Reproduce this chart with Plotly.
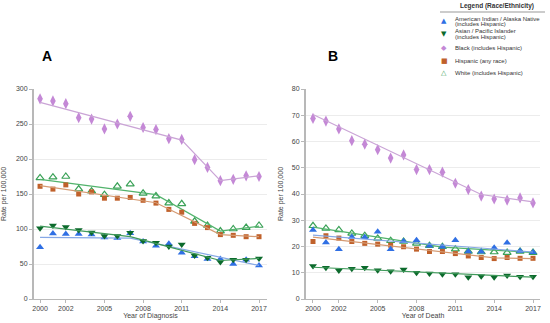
import plotly.graph_objects as go

years = list(range(2000, 2018))

# Panel A: incidence (rate per 100,000)
inc_aian = [74, 93.5, 93, 93, 92, 88, 87, 94, 82, 76, 79, 66, 61, 57, 57, 50, 56, 48]
inc_api = [101, 105, 103, 98.5, 95, 90, 90, 94.5, 83, 80.5, 75, 78, 62, 59, 53, 56, 56, 58]
inc_black = [286, 283, 279, 259, 257, 243, 250, 261, 245, 242, 229, 228, 199, 188, 169, 171, 176, 175]
inc_hisp = [161, 157, 163, 150, 153, 144, 144, 145, 141, 137, 128, 124, 108, 102, 92, 91, 89, 89]
inc_white = [173, 174, 175, 157, 154, 149, 161, 164, 151, 147, 137, 136, 111, 105, 97, 100, 102, 105]

# Panel A: fitted trend (joinpoint) values
inc_aian_tx, inc_aian_ty = [2000, 2007, 2017], [88, 87, 48]
inc_api_tx, inc_api_ty = [2000, 2007, 2014, 2017], [104, 89, 55, 58]
inc_black_tx, inc_black_ty = [2000, 2011, 2014, 2017], [281, 227, 169, 176]
inc_hisp_tx, inc_hisp_ty = [2000, 2009, 2014, 2017], [162, 137.5, 92, 89]
inc_white_tx, inc_white_ty = [2000, 2009, 2014, 2017], [171, 149, 97, 104]

# Panel B: mortality (rate per 100,000)
mort_aian = [26.3, 21.5, 19.0, 23.6, 23.5, 25.6, 19.0, 22.0, 22.4, 20.3, 19.9, 22.4, 18.1, 18.0, 19.5, 21.4, 18.3, 17.8]
mort_api = [12.6, 11.9, 10.9, 11.5, 11.9, 11.0, 10.6, 11.2, 10.0, 9.7, 9.4, 9.4, 8.3, 8.7, 8.3, 9.0, 8.5, 8.5]
mort_black = [68.8, 67.8, 64.8, 60.3, 59.0, 56.9, 53.7, 54.9, 49.3, 49.3, 48.3, 44.1, 41.7, 39.2, 38.1, 37.7, 38.5, 36.6]
mort_hisp = [21.9, 24.1, 23.2, 21.9, 21.2, 20.9, 20.5, 19.9, 19.0, 18.1, 18.1, 17.3, 16.4, 15.8, 15.4, 15.8, 15.5, 15.5]
mort_white = [27.9, 26.9, 26.3, 25.0, 24.1, 23.1, 22.2, 21.9, 21.2, 20.3, 19.9, 19.0, 18.1, 17.9, 17.9, 17.7, 18.1, 17.7]

mort_aian_tx, mort_aian_ty = [2000, 2017], [24.3, 17.9]
mort_api_tx, mort_api_ty = [2000, 2017], [12.1, 8.3]
mort_black_tx, mort_black_ty = [2000, 2013, 2017], [70.3, 39.8, 37.0]
mort_hisp_tx, mort_hisp_ty = [2000, 2014, 2017], [23.6, 15.7, 15.4]
mort_white_tx, mort_white_ty = [2000, 2010, 2017], [27.4, 19.8, 17.7]

x_ticks = [2000, 2002, 2005, 2008, 2011, 2014, 2017]
inc_y_ticks = [0, 50, 100, 150, 200, 250, 300]
mort_y_ticks = [0, 10, 20, 30, 40, 50, 60, 70, 80]

series_names = [
    ["American Indian / Alaska Native", "(includes Hispanic)"],
    ["Asian / Pacific Islander", "(includes Hispanic)"],
    ["Black (includes Hispanic)"],
    ["Hispanic (any race)"],
    ["White (includes Hispanic)"],
]

W, H = 550, 323
FONT = "Liberation Sans, Arial, sans-serif"

styles = {
    "aian": dict(sym="triangle-up", size=7, color="#2f6fe4", line="#86a8e6", open=False, glyph="▲"),
    "api": dict(sym="triangle-down", size=7, color="#0c6a2c", line="#3f995a", open=False, glyph="▼"),
    "black": dict(sym="diamond-tall", size=8, color="#c488d6", line="#caa4d6", open=False, glyph="◆"),
    "hisp": dict(sym="square", size=5, color="#c0612b", line="#d59a72", open=False, glyph="■"),
    "white": dict(sym="triangle-up-open", size=7, color="#3aa157", line="#52b36c", open=True, glyph="△"),
}

fig = go.Figure()

def add_series(key, yvals, tx, ty, xa, ya):
    s = styles[key]
    marker = dict(symbol=s["sym"], size=s["size"], color=s["color"])
    if s["open"]:
        marker["line"] = dict(color=s["color"], width=1.2)
    else:
        marker["line"] = dict(width=0)
    fig.add_trace(go.Scatter(x=years, y=yvals, mode="markers", marker=marker,
                             xaxis=xa, yaxis=ya, showlegend=False, hoverinfo="skip"))
    fig.add_trace(go.Scatter(x=tx, y=ty, mode="lines", line=dict(color=s["line"], width=1.2),
                             xaxis=xa, yaxis=ya, showlegend=False, hoverinfo="skip"))

add_series("black", inc_black, inc_black_tx, inc_black_ty, "x", "y")
add_series("white", inc_white, inc_white_tx, inc_white_ty, "x", "y")
add_series("hisp", inc_hisp, inc_hisp_tx, inc_hisp_ty, "x", "y")
add_series("aian", inc_aian, inc_aian_tx, inc_aian_ty, "x", "y")
add_series("api", inc_api, inc_api_tx, inc_api_ty, "x", "y")

add_series("black", mort_black, mort_black_tx, mort_black_ty, "x2", "y2")
add_series("white", mort_white, mort_white_tx, mort_white_ty, "x2", "y2")
add_series("hisp", mort_hisp, mort_hisp_tx, mort_hisp_ty, "x2", "y2")
add_series("aian", mort_aian, mort_aian_tx, mort_aian_ty, "x2", "y2")
add_series("api", mort_api, mort_api_tx, mort_api_ty, "x2", "y2")

def px_x(p):
    return p / W

def px_y(p):
    return 1 - p / H

tick_font = dict(family=FONT, size=7, color="#444")
title_font = dict(family=FONT, size=7, color="#444")

common_x = dict(tickmode="array", tickvals=x_ticks, tickfont=tick_font, showgrid=False,
                showline=True, linecolor="#b8b8b8", linewidth=1, ticks="outside",
                ticklen=3, tickcolor="#b8b8b8", zeroline=False, fixedrange=True,
                automargin=False)
common_y = dict(tickfont=tick_font, showgrid=True, gridcolor="#ececec", gridwidth=1,
                showline=True, linecolor="#b8b8b8", linewidth=2, ticks="outside",
                ticklen=3, tickcolor="#b8b8b8", zeroline=False, fixedrange=True,
                automargin=False)

fig.update_layout(
    width=W, height=H,
    margin=dict(l=0, r=0, t=0, b=0, autoexpand=False),
    paper_bgcolor="white", plot_bgcolor="white",
    showlegend=False,
    font=dict(family=FONT),
    xaxis=dict(domain=[px_x(34), px_x(267)], range=[1999.53, 2017.62],
               title=dict(text="Year of Diagnosis", font=title_font, standoff=1), **common_x),
    yaxis=dict(domain=[px_y(299), px_y(89)], range=[0, 300], tickvals=inc_y_ticks,
               title=dict(text="Rate per 100,000", font=title_font, standoff=8), **common_y),
    xaxis2=dict(domain=[px_x(306), px_x(540)], range=[1999.46, 2017.54], anchor="y2",
                title=dict(text="Year of Death", font=title_font, standoff=1), **common_x),
    yaxis2=dict(domain=[px_y(299), px_y(89)], range=[0, 80], tickvals=mort_y_ticks, anchor="x2",
                title=dict(text="Rate per 100,000", font=title_font, standoff=7), **common_y),
)

annotations = [
    dict(text="<b>A</b>", x=px_x(47), y=px_y(56), font=dict(family=FONT, size=14, color="black")),
    dict(text="<b>B</b>", x=px_x(333), y=px_y(56), font=dict(family=FONT, size=14, color="black")),
    dict(text="<b>Legend (Race/Ethnicity)</b>", x=px_x(497), y=px_y(6),
         font=dict(family=FONT, size=6.5, color="#333")),
]
legend_rows = [("aian", 21.5), ("api", 34), ("black", 48), ("hisp", 61), ("white", 73.5)]
for (key, ypos), lines in zip(legend_rows, series_names):
    s = styles[key]
    annotations.append(dict(text=s["glyph"], x=px_x(444), y=px_y(ypos),
                            font=dict(family="DejaVu Sans", size=7, color=s["color"])))
    n = len(lines)
    for i, ln in enumerate(lines):
        yy = ypos + (i - (n - 1) / 2) * 6
        annotations.append(dict(text=ln, x=px_x(453), y=px_y(yy), xanchor="left", align="left",
                                font=dict(family=FONT, size=6, color="#333")))

for a in annotations:
    a.setdefault("xanchor", "center")
    a.update(xref="paper", yref="paper", yanchor="middle", showarrow=False)
fig.update_layout(annotations=annotations)

fig.add_shape(type="line", xref="paper", yref="paper", x0=px_x(440), x1=px_x(545),
              y0=px_y(12), y1=px_y(12), line=dict(color="#999", width=1))

fig.write_html("out.html", config={"displayModeBar": False, "staticPlot": True},
               post_script="document.body.style.margin='0';document.body.style.overflow='hidden';")
